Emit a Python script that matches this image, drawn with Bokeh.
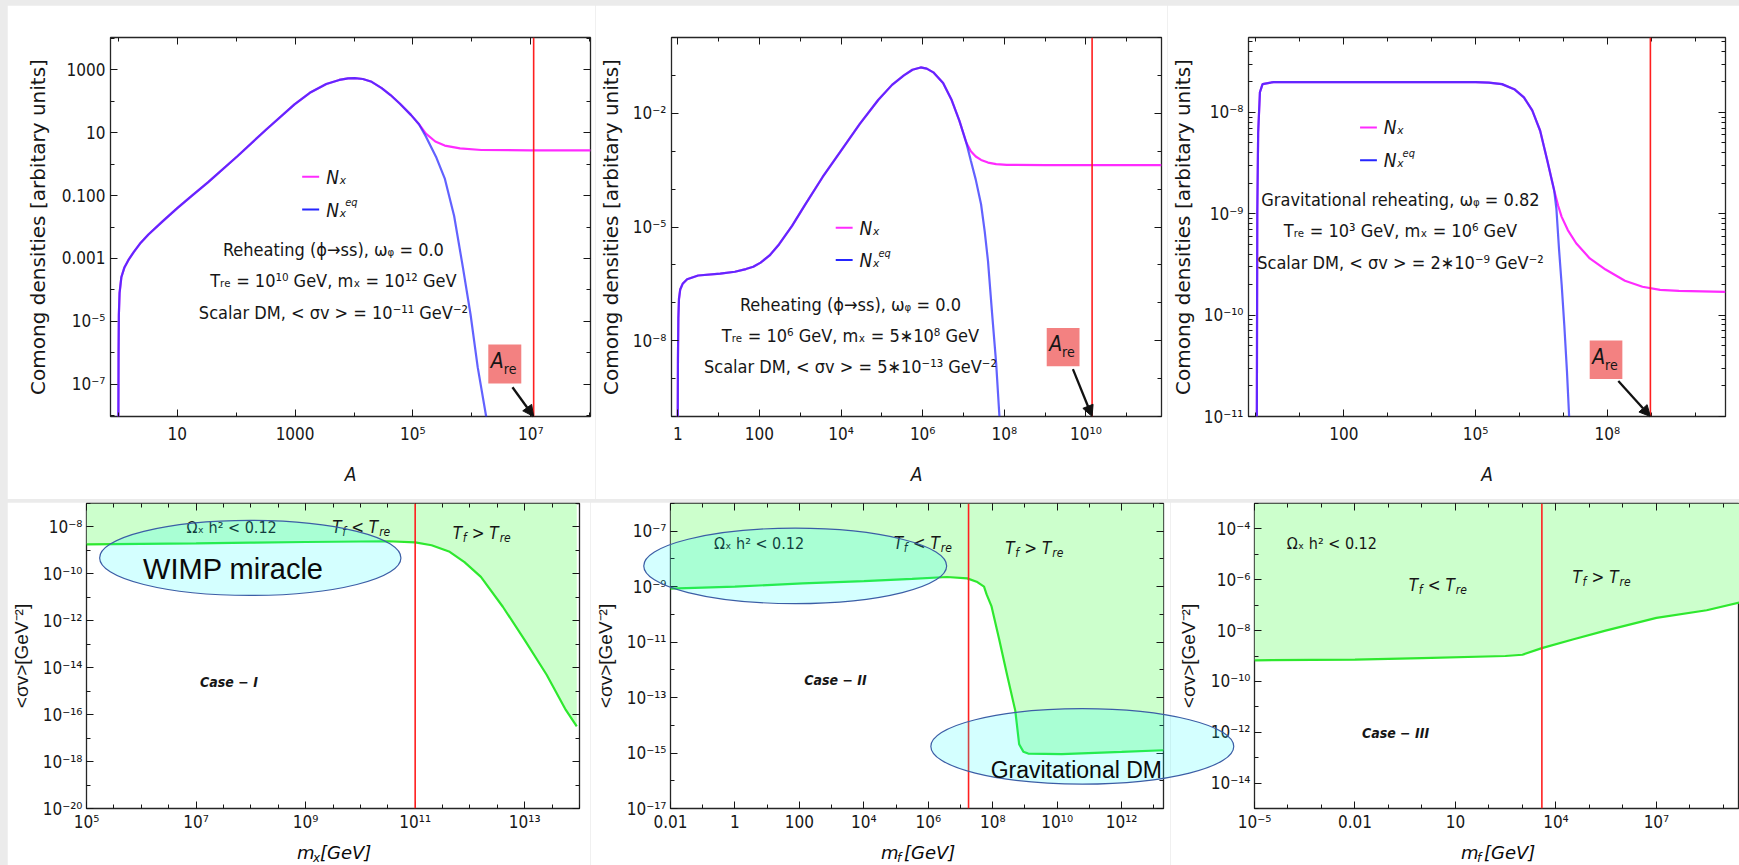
import numpy as np
from bokeh.plotting import figure
from bokeh.models import (LogAxis, FixedTicker, CustomJSTickFormatter, Range1d, Span, Label,
                          Arrow, NormalHead, BoxAnnotation)
from bokeh.layouts import row, column
from bokeh.embed import file_html
from bokeh.resources import INLINE

# ------------------------------------------------------------------
# Data: all values are log10 of the plotted quantities
# ------------------------------------------------------------------
# (a) Reheating (phi -> ss), w = 0, Tre = 1e10 GeV, mX = 1e12 GeV
a_logA_common = [0.0, 0.003, 0.008, 0.02, 0.05, 0.10, 0.18, 0.26, 0.38, 0.51, 0.75, 1.0, 1.25,
                 1.52, 2.02, 2.52, 2.99, 3.25, 3.53, 3.75, 3.9, 4.01, 4.15, 4.3, 4.47, 4.62, 4.78,
                 4.97, 5.1]
a_logN_common = [-8.03, -6.0, -4.8, -4.1, -3.6, -3.3, -3.02, -2.8, -2.5, -2.24, -1.82, -1.40, -1.0,
                 -0.58, 0.25, 1.12, 1.9, 2.27, 2.55, 2.68, 2.73, 2.74, 2.71, 2.62, 2.42, 2.2, 1.92,
                 1.56, 1.28]
a_logA_nx = [5.22, 5.38, 5.54, 5.8, 6.16, 7.0, 8.02]
a_logN_nx = [0.97, 0.72, 0.59, 0.50, 0.45, 0.44, 0.44]
a_logA_eq = [5.22, 5.4, 5.54, 5.7, 5.85, 5.98, 6.10, 6.25]
a_logN_eq = [0.88, 0.2, -0.45, -1.65, -3.3, -4.8, -6.46, -8.1]
a_logAre = 7.05

# (b) Reheating (phi -> ss), w = 0, Tre = 1e6 GeV, mX = 5e8 GeV
b_logA_common = [0.0, 0.005, 0.015, 0.03, 0.06, 0.12, 0.23, 0.5, 1.04, 1.4, 1.67, 1.85, 2.03,
                 2.25, 2.48, 2.8, 3.11, 3.55, 4.01, 4.46, 4.91, 5.25, 5.54, 5.75, 5.95, 6.1, 6.26,
                 6.5, 6.71, 6.9, 7.07]
b_logN_common = [-10.0, -8.5, -7.4, -6.9, -6.65, -6.5, -6.38, -6.28, -6.23, -6.18, -6.11, -6.05,
                 -5.94, -5.75, -5.46, -4.97, -4.43, -3.68, -2.97, -2.28, -1.65, -1.25, -1.0, -0.85,
                 -0.79, -0.82, -0.92, -1.2, -1.65, -2.2, -2.78]
b_logA_nx = [7.18, 7.3, 7.43, 7.6, 7.8, 8.06, 9.0, 11.85]
b_logN_nx = [-3.0, -3.14, -3.23, -3.3, -3.34, -3.36, -3.37, -3.37]
b_logA_eq = [7.18, 7.3, 7.43, 7.52, 7.6, 7.70, 7.8, 7.88]
b_logN_eq = [-3.25, -3.75, -4.4, -5.12, -5.9, -7.28, -8.6, -10.0]
b_logAre = 10.15

# (c) Gravitational reheating, w = 0.82, Tre = 1e3 GeV, mX = 1e6 GeV
c_logA_common = [0.02, 0.03, 0.05, 0.09, 0.15, 0.4, 5.0, 5.3, 5.6, 5.88, 6.1, 6.29, 6.47, 6.63,
                 6.79]
c_logN_common = [-11.0, -9.0, -8.2, -7.8, -7.72, -7.70, -7.70, -7.705, -7.72, -7.77, -7.85, -7.98,
                 -8.18, -8.47, -8.77]
c_logA_nx = [6.88, 6.96, 7.1, 7.29, 7.6, 7.96, 8.4, 8.8, 9.2, 9.63, 10.69]
c_logN_nx = [-8.92, -9.03, -9.16, -9.29, -9.44, -9.55, -9.66, -9.72, -9.75, -9.76, -9.77]
c_logA_eq = [6.84, 6.9, 6.96, 7.02, 7.08, 7.13]
c_logN_eq = [-8.95, -9.35, -9.7, -10.1, -10.55, -11.0]
c_logAre = 8.98

# Relic-abundance boundaries  Omega h^2 = 0.12  in the (mass, <sigma v>) plane
d_logm = [5, 6, 7, 8, 9, 10, 10.5, 11, 11.3, 11.63, 11.9, 12.2, 12.6, 13.0, 13.4, 13.75, 13.95]
d_logsv = [-8.74, -8.72, -8.70, -8.67, -8.64, -8.62, -8.61, -8.66, -8.78, -9.06, -9.5, -10.13,
           -11.4, -12.82, -14.3, -15.8, -16.5]
d_logTre = 11.0

e_logm = [-2, 0, 2.1, 4, 5.5, 6.58, 7.21, 7.5, 7.73, 7.81, 7.96, 8.2, 8.45, 8.70, 8.82, 8.95, 9.1,
          10.14, 12, 13.3]
e_logsv = [-9.07, -9.0, -8.88, -8.8, -8.72, -8.65, -8.70, -8.82, -9.0, -9.28, -9.70, -10.9, -12.2,
           -13.47, -14.68, -14.95, -15.02, -15.04, -14.96, -14.9]
e_logTre = 7.25

f_logm = [-5, -2, 0, 2.49, 3.0, 3.58, 4.5, 5.48, 7, 8.5, 9.48]
f_logsv = [-9.17, -9.14, -9.08, -9.0, -8.95, -8.69, -8.35, -8.0, -7.5, -7.2, -6.9]
f_logTre = 3.58

# Highlighted regions: (centre log10 x, centre log10 y, half-width, half-height) in decades
wimp_region = (7.99, -9.32, 2.75, 1.6)
case2_region = (1.87, -8.25, 4.7, 1.36)
grav_region = (10.78, -14.76, 4.7, 1.36)

# Tick positions (log10) and their labels
a_xticks, a_xlabels = [1, 3, 5, 7], ["10", "1000", "10⁵", "10⁷"]
a_yticks, a_ylabels = [3, 1, -1, -3, -5, -7], ["1000", "10", "0.100", "0.001", "10⁻⁵", "10⁻⁷"]
b_xticks, b_xlabels = [0, 2, 4, 6, 8, 10], ["1", "100", "10⁴", "10⁶", "10⁸", "10¹⁰"]
b_yticks, b_ylabels = [-2, -5, -8], ["10⁻²", "10⁻⁵", "10⁻⁸"]
c_xticks, c_xlabels = [2, 5, 8], ["100", "10⁵", "10⁸"]
c_yticks, c_ylabels = [-8, -9, -10, -11], ["10⁻⁸", "10⁻⁹", "10⁻¹⁰", "10⁻¹¹"]
d_xticks, d_xlabels = [5, 7, 9, 11, 13], ["10⁵", "10⁷", "10⁹", "10¹¹", "10¹³"]
d_yticks = [-8, -10, -12, -14, -16, -18, -20]
d_ylabels = ["10⁻⁸", "10⁻¹⁰", "10⁻¹²", "10⁻¹⁴", "10⁻¹⁶", "10⁻¹⁸", "10⁻²⁰"]
e_xticks = [-2, 0, 2, 4, 6, 8, 10, 12]
e_xlabels = ["0.01", "1", "100", "10⁴", "10⁶", "10⁸", "10¹⁰", "10¹²"]
e_yticks = [-7, -9, -11, -13, -15, -17]
e_ylabels = ["10⁻⁷", "10⁻⁹", "10⁻¹¹", "10⁻¹³", "10⁻¹⁵", "10⁻¹⁷"]
f_xticks, f_xlabels = [-5, -2, 1, 4, 7], ["10⁻⁵", "0.01", "10", "10⁴", "10⁷"]
f_yticks = [-4, -6, -8, -10, -12, -14]
f_ylabels = ["10⁻⁴", "10⁻⁶", "10⁻⁸", "10⁻¹⁰", "10⁻¹²", "10⁻¹⁴"]

# ------------------------------------------------------------------
# Styling
# ------------------------------------------------------------------
TICK_FONT = "DejaVu Sans Condensed"
TXT_FONT = "DejaVu Sans Condensed"
WIDE_FONT = "DejaVu Sans"
ARIAL = "Liberation Sans"
NX_COLOR = "#ff2bff"
EQ_COLOR = "#2525ff"
RED = "#ff1f1f"
GREEN_LINE = "#2ee82e"
GREEN_FILL = "#ccffcc"
INK = "#161616"
PAGE_W, PAGE_H = 1739, 865


def geom(x0, y0, w, h, l, r, t, b, xr, yr):
    return dict(w=w, h=h, l=l, r=r, t=t, b=b, fl=x0 + l, fr=x0 + w - r, ft=y0 + t,
                fb=y0 + h - b, xr=xr, yr=yr)


TOP_Y, BOT_Y, TOP_H, BOT_H, GAP = 5, 502, 494, 363, 3
G1 = geom(7, TOP_Y, 588, TOP_H, 103, 5, 30, 83, (-0.134, 8.015), (-8.03, 4.03))
G2 = geom(595, TOP_Y, 572, TOP_H, 73, 6, 30, 77, (-0.153, 11.85), (-10.0, 0.0))
G3 = geom(1167, TOP_Y, 572, TOP_H, 76, 14, 32, 80, (-0.17, 10.69), (-11.0, -7.26))
G4 = geom(7, BOT_Y, 583, BOT_H, 79, 11, 1, 57, (5.0, 14.0), (-20.0, -7.0))
G5 = geom(590, BOT_Y, 580, BOT_H, 80, 7, 1, 57, (-2.0, 13.3), (-17.0, -6.0))
G6 = geom(1170, BOT_Y, 569, BOT_H, 84, 0, 1, 57, (-5.0, 9.48), (-15.0, -3.0))


def px_per_decade(g):
    return ((g["fr"] - g["fl"]) / (g["xr"][1] - g["xr"][0]),
            (g["fb"] - g["ft"]) / (g["yr"][1] - g["yr"][0]))


def log_to_page(g, lx, ly):
    sx, sy = px_per_decade(g)
    return g["fl"] + (lx - g["xr"][0]) * sx, g["ft"] + (g["yr"][1] - ly) * sy


def page_to_log(g, X, Y):
    sx, sy = px_per_decade(g)
    return g["xr"][0] + (X - g["fl"]) / sx, g["yr"][1] - (Y - g["ft"]) / sy


def nudge(g, lx, ly, dx, dy):
    X, Y = log_to_page(g, lx, ly)
    return page_to_log(g, X + dx, Y + dy)


def pw(v):
    return (10.0 ** np.asarray(v, dtype=float)).tolist()


def make_axis(ticks, minor, labels, tick_size, standoff=6, title=None, title_size="16px",
              title_font=TXT_FONT, title_style="normal", title_standoff=10):
    ax = LogAxis(ticker=FixedTicker(ticks=pw(ticks), minor_ticks=pw(minor)))
    ax.major_tick_in, ax.major_tick_out = 7, 0
    ax.minor_tick_in, ax.minor_tick_out = 4, 0
    ax.major_tick_line_color = INK
    ax.minor_tick_line_color = INK
    ax.axis_line_color = None
    if labels is None:
        ax.formatter = CustomJSTickFormatter(code="return ''")
        ax.major_label_text_font_size = "0px"
        ax.major_label_standoff = 0
    else:
        ax.major_label_overrides = {10.0 ** k: s for k, s in zip(ticks, labels)}
        ax.major_label_text_font = TICK_FONT
        ax.major_label_text_font_size = tick_size
        ax.major_label_text_color = INK
        ax.major_label_standoff = standoff
    if title:
        ax.axis_label = title
        ax.axis_label_text_font = title_font
        ax.axis_label_text_font_size = title_size
        ax.axis_label_text_font_style = title_style
        ax.axis_label_text_color = INK
        ax.axis_label_standoff = title_standoff
    return ax


def make_fig(g, xt, xl, xminor, yt, yl, yminor, tick_size, xtitle, ytitle, ytitle_size,
             ytitle_font, ytitle_standoff, xtitle_standoff=16, right=True, xstand=7, ystand=5):
    p = figure(width=g["w"], height=g["h"], x_axis_type="log", y_axis_type="log",
               x_range=Range1d(10 ** g["xr"][0], 10 ** g["xr"][1]),
               y_range=Range1d(10 ** g["yr"][0], 10 ** g["yr"][1]),
               x_axis_location=None, y_axis_location=None,
               output_backend="svg", toolbar_location=None,
               min_border_left=g["l"], min_border_right=g["r"],
               min_border_top=g["t"], min_border_bottom=g["b"])
    p.grid.visible = False
    p.background_fill_color = "white"
    p.border_fill_color = "white"
    p.outline_line_color = "#262626"
    p.outline_line_width = 1.3
    p.add_layout(make_axis(xt, xminor, xl, tick_size, standoff=xstand, title=xtitle,
                           title_size="19px", title_style="italic",
                           title_standoff=xtitle_standoff), "below")
    p.add_layout(make_axis(yt, yminor, yl, tick_size, standoff=ystand, title=ytitle,
                           title_size=ytitle_size, title_font=ytitle_font,
                           title_standoff=ytitle_standoff), "left")
    p.add_layout(make_axis(xt, xminor, None, tick_size), "above")
    if right:
        p.add_layout(make_axis(yt, yminor, None, tick_size), "right")
    return p


def label(p, lx, ly, text, size, font=TXT_FONT, style="normal", align="center", color=INK):
    p.add_layout(Label(x=10 ** lx, y=10 ** ly, text=text, text_font=font,
                       text_font_size=f"{size}px", text_font_style=style, text_align=align,
                       text_baseline="middle", text_color=color))


def pieces(p, g, lx, ly, items, font=TXT_FONT):
    # items: (text, size, dx px, dy px (down), style) relative to a left-middle anchor
    for text, size, dx, dy, style in items:
        qx, qy = nudge(g, lx, ly, dx, dy)
        label(p, float(qx), float(qy), text, size, font=font, style=style, align="left")


def top_panel(g, xt, xl, yt, yl, yminor, common, nx, eq, logAre, legend, info, box, arrow_start,
              ytitle_standoff):
    xminor = list(range(int(np.floor(g["xr"][0])), int(np.ceil(g["xr"][1])) + 1))
    p = make_fig(g, xt, xl, xminor, yt, yl, yminor, "17px", "A",
                 "Comong densities [arbitary units]", "20px", WIDE_FONT, ytitle_standoff)
    # comoving number densities
    p.line(pw(common[0] + nx[0]), pw(common[1] + nx[1]), line_color=NX_COLOR, line_width=2.2)
    p.line(pw(common[0] + eq[0]), pw(common[1] + eq[1]), line_color=EQ_COLOR, line_width=2.2,
           line_alpha=0.72)
    # end of reheating
    p.add_layout(Span(location=10 ** logAre, dimension="height", line_color=RED, line_width=1.6))
    # legend
    lx, ly = legend
    for k, col in enumerate([NX_COLOR, EQ_COLOR]):
        x0, y0 = nudge(g, lx, ly, 0, 33 * k)
        x1, _ = nudge(g, lx, ly, 17, 33 * k)
        p.line(pw([x0, x1]), pw([y0, y0]), line_color=col, line_width=2)
    pieces(p, g, lx, ly, [("Nₓ", 19, 24, 0, "italic")])
    pieces(p, g, lx, ly, [("Nₓ", 19, 24, 33, "italic"), ("eq", 11, 43, 26, "italic")])
    # model description
    cx, cy, dy_line = info["x"], info["y"], info["dy"]
    for k, text in enumerate(info["lines"]):
        qx, qy = nudge(g, cx, cy, 0, dy_line * k)
        label(p, float(qx), float(qy), text, 18)
    # A_re marker
    bx, by = box
    l_, t_ = nudge(g, bx, by, -16.5, -19.5)
    r_, b_ = nudge(g, bx, by, 16.5, 19.5)
    p.add_layout(BoxAnnotation(left=10 ** l_, right=10 ** r_, top=10 ** t_, bottom=10 ** b_,
                               fill_color="#f27a7a", fill_alpha=0.95, line_color=None))
    pieces(p, g, *nudge(g, bx, by, -14, -3), [("A", 21, 0, 0, "italic"), ("re", 14, 13, 8, "normal")])
    p.add_layout(Arrow(end=NormalHead(size=11, fill_color="#111", line_color="#111"),
                       x_start=10 ** arrow_start[0], y_start=10 ** arrow_start[1],
                       x_end=10 ** logAre, y_end=10 ** g["yr"][0],
                       line_color="#111", line_width=2.3))
    return p


def ineq(p, g, cx, cy, sym):
    # "T_f < T_re" centred at (cx, cy)
    lx, ly = nudge(g, cx, cy, -31, 0)
    pieces(p, g, float(lx), float(ly), [("T", 17, 0, 0, "italic"), ("f", 12, 10, 5, "italic"),
                                        (f"{sym} T", 17, 19, 0, "italic"),
                                        ("re", 12, 47, 5, "italic")])


def bottom_panel(g, xt, xl, xminor, yt, yl, yminor, logm, logsv, logTre, ytitle_standoff,
                 right=True):
    p = make_fig(g, xt, xl, xminor, yt, yl, yminor, "17px", None, "<σv>[GeV⁻²]", "19px",
                 ARIAL, ytitle_standoff, right=right, xstand=3, ystand=4)
    p.varea(x=pw(logm), y1=pw(logsv), y2=10 ** g["yr"][1], fill_color=GREEN_FILL)
    p.line(pw(logm), pw(logsv), line_color=GREEN_LINE, line_width=2.2)
    p.add_layout(Span(location=10 ** logTre, dimension="height", line_color=RED, line_width=1.6))
    return p


# ------------------------------------------------------------------
# Top row: comoving densities versus scale factor A
# ------------------------------------------------------------------
p1 = top_panel(G1, a_xticks, a_xlabels, a_yticks, a_ylabels, list(range(-8, 5)),
               (a_logA_common, a_logN_common), (a_logA_nx, a_logN_nx), (a_logA_eq, a_logN_eq),
               a_logAre, legend=(3.12, -0.40),
               info=dict(x=3.65, y=-2.72, dy=31.5,
                         lines=["Reheating (ϕ→ss), ωᵩ = 0.0",
                                "Tᵣₑ = 10¹⁰ GeV, mₓ = 10¹² GeV",
                                "Scalar DM, < σv > = 10⁻¹¹ GeV⁻²"]),
               box=(6.56, -6.36), arrow_start=(6.69, -7.1), ytitle_standoff=9)

p2 = top_panel(G2, b_xticks, b_xlabels, b_yticks, b_ylabels, list(range(-10, 1)),
               (b_logA_common, b_logN_common), (b_logA_nx, b_logN_nx), (b_logA_eq, b_logN_eq),
               b_logAre, legend=(3.87, -5.02),
               info=dict(x=4.23, y=-7.04, dy=32,
                         lines=["Reheating (ϕ→ss), ωᵩ = 0.0",
                                "Tᵣₑ = 10⁶ GeV, mₓ = 5∗10⁸ GeV",
                                "Scalar DM, < σv > = 5∗10⁻¹³ GeV⁻²"]),
               box=(9.44, -8.17), arrow_start=(9.68, -8.75), ytitle_standoff=7)

c_yminor = [d + np.log10(k) for d in range(-11, -7) for k in range(1, 10)]
p3 = top_panel(G3, c_xticks, c_xlabels, c_yticks, c_ylabels, c_yminor,
               (c_logA_common, c_logN_common), (c_logA_nx, c_logN_nx), (c_logA_eq, c_logN_eq),
               c_logAre, legend=(2.37, -8.147),
               info=dict(x=3.29, y=-8.86, dy=31.5,
                         lines=["Gravitational reheating, ωᵩ = 0.82",
                                "Tᵣₑ = 10³ GeV, mₓ = 10⁶ GeV",
                                "Scalar DM, < σv > = 2∗10⁻⁹ GeV⁻²"]),
               box=(7.97, -10.44), arrow_start=(8.25, -10.65), ytitle_standoff=6)

# ------------------------------------------------------------------
# Bottom row: allowed regions in the (mass, <sigma v>) plane
# ------------------------------------------------------------------
p4 = bottom_panel(G4, d_xticks, d_xlabels, list(np.arange(5.0, 14.01, 0.5)), d_yticks, d_ylabels,
                  list(range(-20, -6)), d_logm, d_logsv, d_logTre, 8)
label(p4, 7.65, -8.02, "Ωₓ h² < 0.12", 16)
ineq(p4, G4, 10.05, -8.02, "<")
ineq(p4, G4, 12.25, -8.24, ">")
label(p4, 7.6, -14.62, "Case − I", 14, style="bold italic")

p5 = bottom_panel(G5, e_xticks, e_xlabels, list(range(-2, 14)), e_yticks, e_ylabels,
                  list(range(-17, -5)), e_logm, e_logsv, e_logTre, 8)
label(p5, 0.75, -7.44, "Ωₓ h² < 0.12", 16)
ineq(p5, G5, 5.89, -7.44, "<")
ineq(p5, G5, 9.35, -7.62, ">")
label(p5, 3.12, -12.38, "Case − II", 14, style="bold italic")

p6 = bottom_panel(G6, f_xticks, f_xlabels, list(range(-5, 10)), f_yticks, f_ylabels,
                  list(range(-15, -2)), f_logm, f_logsv, f_logTre, 9, right=False)
label(p6, -2.69, -4.57, "Ωₓ h² < 0.12", 16)
ineq(p6, G6, 0.53, -6.22, "<")
ineq(p6, G6, 5.42, -5.91, ">")
label(p6, -0.79, -12.04, "Case − III", 14, style="bold italic")

# ------------------------------------------------------------------
# Transparent page-wide layer (page pixels, y downwards) for what lies
# outside the panel frames: highlighted regions and mass-axis titles
# ------------------------------------------------------------------
TOTAL_H = TOP_Y + TOP_H + GAP + BOT_H
overlay = figure(width=PAGE_W, height=PAGE_H, x_range=Range1d(0, PAGE_W),
                 y_range=Range1d(PAGE_H, 0), x_axis_location=None, y_axis_location=None,
                 output_backend="svg", toolbar_location=None, min_border=0,
                 margin=(-(TOTAL_H + GAP), 0, 0, 0))
overlay.grid.visible = False
overlay.background_fill_color = None
overlay.border_fill_color = None
overlay.outline_line_color = None


def page_text(X, Y, text, size, font, style="normal", align="left"):
    overlay.add_layout(Label(x=X, y=Y, text=text, text_font=font, text_font_size=f"{size}px",
                             text_font_style=style, text_align=align, text_baseline="middle",
                             text_color="#0a0a0a"))


for g, (cx, cy, hx, hy), text, size, dx, dy in [
        (G4, wimp_region, "WIMP miracle", 29, -17, 11),
        (G5, case2_region, None, 0, 0, 0),
        (G5, grav_region, "Gravitational DM", 23, -6, 24)]:
    X, Y = log_to_page(g, cx, cy)
    sx, sy = px_per_decade(g)
    overlay.ellipse(x=[X], y=[Y], width=[2 * hx * sx], height=[2 * hy * sy],
                    fill_color="#00ffff", fill_alpha=0.17, line_color="#3b5ea6", line_width=1.2)
    if text:
        page_text(X + dx, Y + dy, text, size, ARIAL, align="center")

# mass-axis titles below the bottom panels
for g, sub in [(G4, "x"), (G5, "f"), (G6, "f")]:
    X0 = 0.5 * (g["fl"] + g["fr"]) - 36
    Y0 = g["fb"] + 44
    page_text(X0, Y0, "m", 18, WIDE_FONT, "italic")
    page_text(X0 + 16, Y0 + 5, sub, 12, WIDE_FONT, "italic")
    page_text(X0 + 23, Y0, "[GeV]", 18, WIDE_FONT, "italic")

top = row(p1, p2, p3, margin=(TOP_Y, 0, 0, 7))
bottom = row(p4, p5, p6, margin=(0, 0, 0, 7))
page = column(top, bottom, overlay, spacing=GAP, styles={"background-color": "#ebebeb"})

with open("out.html", "w") as fh:
    fh.write(file_html(page, INLINE, title="Freeze-out during reheating"))
